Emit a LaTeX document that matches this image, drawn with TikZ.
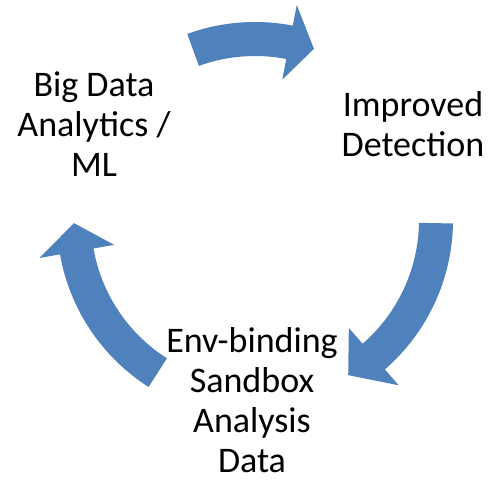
\documentclass[tikz,border=0pt]{standalone}
\usepackage{fontspec}
\setmainfont{Carlito}
\usepackage{tikz}

\definecolor{cycleblue}{RGB}{79,129,189}
\tikzset{
  steptext/.style={align=center, inner sep=0pt, font=\fontsize{36}{40}\selectfont},
  arrowfill/.style={fill=cycleblue, draw=none}
}
% curved block arrow on the cycle: tail angle, head base angle, tip angle
\newcommand{\curvedarrow}[3]{%
  \fill[arrowfill] (#1:198pt) arc[start angle=#1, end angle=#2, radius=198pt]
    -- (#2:219pt) -- (#3:181pt) -- (#2:143pt) -- (#2:164pt)
    arc[start angle=#2, end angle=#1, radius=164pt] -- cycle;}

\begin{document}
\begin{tikzpicture}[x=1pt,y=1pt]
  \useasboundingbox (0,0) rectangle (491,482);
  %
  \begin{scope}[shift={(255,262)}]
    \curvedarrow{110}{79}{71}
    \curvedarrow{-1}{-49}{-59}
    \curvedarrow{237.5}{190}{181}
  \end{scope}
  %
  \node[steptext] (bigdata) at (94,358) {Big Data\\Analytics /\\ML};
  \node[steptext] (detect) at (413,358) {Improved\\Detection};
  \node[steptext] (sandbox) at (252,82) {Env-binding\\Sandbox\\Analysis\\Data};
\end{tikzpicture}
\end{document}
